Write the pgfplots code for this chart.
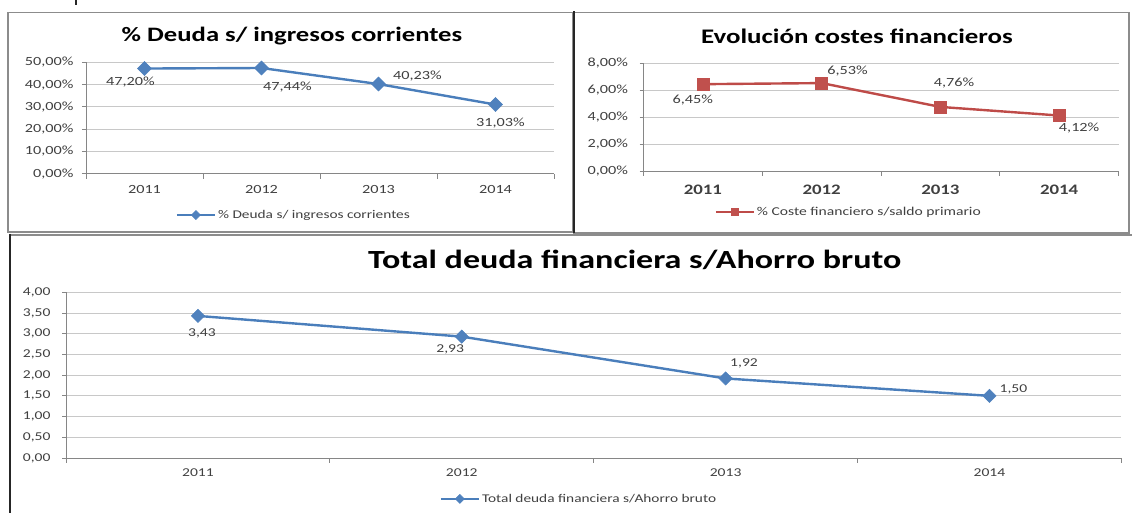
\documentclass[border=0pt]{standalone}
\usepackage{pgfplots}
\pgfplotsset{compat=1.18}
\usepackage{fontspec}
\setmainfont[FakeStretch=1.3]{Carlito}
\definecolor{eblue}{HTML}{4A7EBB}
\definecolor{eblueM}{HTML}{4F81BD}
\definecolor{ered}{HTML}{BE4B48}
\definecolor{eredM}{HTML}{C0504D}
\definecolor{txt}{HTML}{404040}
\definecolor{axgray}{HTML}{868686}
\definecolor{gridc}{HTML}{C8C8C8}
\definecolor{frame}{HTML}{8C8C8C}

\pgfplotsset{
 excel/.style={
  scale only axis,
  axis x line*=bottom, axis y line*=left,
  axis line style={axgray, line width=0.9pt},
  xmin=-0.5, xmax=3.5,
  xtick={0,1,2,3}, xticklabels={2011,2012,2013,2014},
  minor xtick={-0.5,0.5,1.5,2.5,3.5},
  major x tick style={draw=none},
  minor x tick style={axgray, line width=0.8pt},
  minor tick length=5pt,
  major tick length=4pt,
  tick align=outside,
  ytick style={axgray, line width=0.8pt},
  ymajorgrids, major grid style={gridc, line width=0.9pt},
  ticklabel style={text=txt},
  /pgf/number format/assume math mode=true,
  /pgf/number format/.cd, use comma, fixed, fixed zerofill, precision=2, /pgfplots/.cd,
  clip=false,
  legend style={draw=none, fill=none, text=txt, inner sep=0pt, outer sep=0pt},
  legend image code/.code={
    \draw[mark repeat=2, mark phase=2, ##1, mark size=3.2pt] plot coordinates {(0pt,0pt) (19pt,0pt) (38pt,0pt)};
  },
 },
}
\tikzset{lbl/.style={text=txt, font=\fontsize{12.5}{14}\selectfont, inner sep=0pt}}

\begin{document}
\begin{tikzpicture}[x=1pt,y=1pt]
\path[use as bounding box] (0,0) rectangle (1132,513);
% panel frames
\draw[frame, line width=1.2pt] (8,500.7) rectangle (573,281);
\draw[frame, line width=1.2pt] (573,500.7) -- (1129,500.7) -- (1129,280) -- (573,280);
\draw[black!85, line width=1.8pt] (573.6,501.5) -- (573.6,280);
\draw[frame, line width=1.2pt] (10,278) -- (1132,278);
\draw[black!85, line width=2pt] (9.6,279) -- (9.6,0);
\draw[black!85, line width=1.2pt] (76,513) -- (76,508);

% ---------- top-left ----------
\begin{axis}[excel, at={(86pt,339.3pt)}, anchor=south west,
  width=468pt, height=111.4pt,
  ymin=0, ymax=50, ytick={0,10,20,30,40,50},
  yticklabel={\pgfmathprintnumber{\tick}\%},
  ticklabel style={font=\fontsize{12.5}{14}\selectfont},
  yticklabel style={xshift=-5pt},
  xticklabel style={yshift=-4pt},
  legend style={at={(0.444,-0.371)}, anchor=center, font=\fontsize{11.8}{14}\selectfont},
]
\addplot[eblue, line width=2.4pt, mark=square*, mark size=5pt,
  mark options={rotate=45, fill=eblueM, draw=eblueM, line width=0.5pt}]
  coordinates {(0,47.20) (1,47.44) (2,40.23) (3,31.03)};
\addlegendentry{\% Deuda s/ ingresos corrientes}
\node[lbl, xshift=-14pt, yshift=-14pt] at (axis cs:0,47.20) {47,20\%};
\node[lbl, xshift=26pt, yshift=-19pt] at (axis cs:1,47.44) {47,44\%};
\node[lbl, xshift=39pt, yshift=7.6pt] at (axis cs:2,40.23) {40,23\%};
\node[lbl, xshift=5pt, yshift=-18pt] at (axis cs:3,31.03) {31,03\%};
\end{axis}
\node[font=\bfseries\fontsize{20.5}{24}\selectfont] at (292,477) {\% Deuda s/ ingresos corrientes};

% ---------- top-right ----------
\begin{axis}[excel, at={(643.5pt,342pt)}, anchor=south west,
  width=475pt, height=107.7pt,
  ymin=0, ymax=8, ytick={0,2,4,6,8},
  yticklabel={\pgfmathprintnumber{\tick}\%},
  yticklabel style={font=\fontsize{12.5}{14}\selectfont, xshift=-8pt},
  xticklabel style={font=\bfseries\fontsize{14.5}{16}\selectfont, yshift=-6pt},
  legend style={at={(0.432,-0.378)}, anchor=center, font=\fontsize{12}{14}\selectfont},
]
\addplot[ered, line width=2.4pt, mark=square*, mark size=6pt,
  mark options={fill=eredM, draw=eredM, line width=0.5pt}]
  coordinates {(0,6.45) (1,6.53) (2,4.76) (3,4.12)};
\addlegendentry{\% Coste financiero s/saldo primario}
\node[lbl, xshift=-10pt, yshift=-16pt] at (axis cs:0,6.45) {6,45\%};
\node[lbl, xshift=26pt, yshift=12.3pt] at (axis cs:1,6.53) {6,53\%};
\node[lbl, xshift=13.6pt, yshift=23.4pt] at (axis cs:2,4.76) {4,76\%};
\node[lbl, xshift=20pt, yshift=-13pt] at (axis cs:3,4.12) {4,12\%};
\end{axis}
\node[font=\bfseries\fontsize{20.7}{24}\selectfont] at (857,477) {Evolución costes financieros};

% ---------- bottom ----------
\begin{axis}[excel, at={(66pt,55pt)}, anchor=south west,
  width=1055.4pt, height=165.7pt,
  ymin=0, ymax=4, ytick={0,0.5,1,1.5,2,2.5,3,3.5,4},
  yticklabel={\pgfmathprintnumber{\tick}},
  ticklabel style={font=\fontsize{12}{14}\selectfont},
  yticklabel style={xshift=-8pt},
  xticklabel style={yshift=-3pt},
  legend style={at={(0.486,-0.247)}, anchor=center, font=\fontsize{11.8}{14}\selectfont},
]
\addplot[eblue, line width=2.4pt, mark=square*, mark size=4.7pt,
  mark options={rotate=45, fill=eblueM, draw=eblueM, line width=0.5pt}]
  coordinates {(0,3.43) (1,2.93) (2,1.92) (3,1.50)};
\addlegendentry{Total deuda financiera s/Ahorro bruto}
\node[lbl, font=\fontsize{12}{14}\selectfont, xshift=4pt, yshift=-17.3pt] at (axis cs:0,3.43) {3,43};
\node[lbl, font=\fontsize{12}{14}\selectfont, xshift=-11.6pt, yshift=-12.3pt] at (axis cs:1,2.93) {2,93};
\node[lbl, font=\fontsize{12}{14}\selectfont, xshift=18.4pt, yshift=15pt] at (axis cs:2,1.92) {1,92};
\node[lbl, font=\fontsize{12}{14}\selectfont, xshift=24pt, yshift=6.4pt] at (axis cs:3,1.50) {1,50};
\end{axis}
\node[font=\bfseries\fontsize{26.2}{30}\selectfont] at (634.7,253) {Total deuda financiera s/Ahorro bruto};
\end{tikzpicture}
\end{document}
